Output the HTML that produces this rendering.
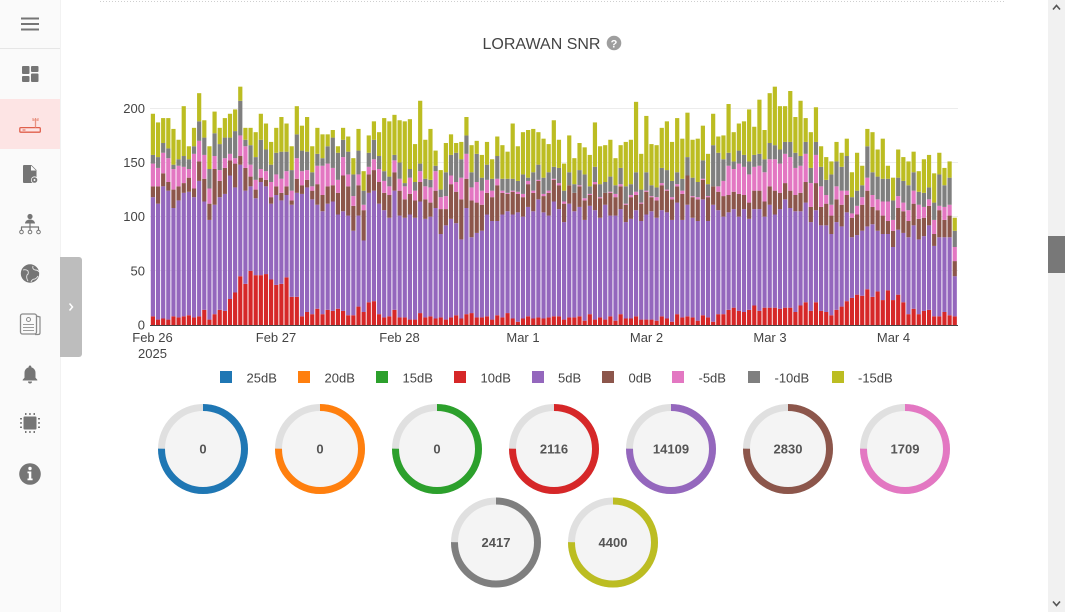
<!DOCTYPE html>
<html><head><meta charset="utf-8">
<style>
html,body{margin:0;padding:0;width:1065px;height:612px;overflow:hidden;background:#fff;font-family:"Liberation Sans",sans-serif;}
svg{position:absolute;left:0;top:0;}
</style></head><body>
<svg id="s" width="1065" height="612" viewBox="0 0 1065 612" xmlns="http://www.w3.org/2000/svg" font-family="Liberation Sans, sans-serif">
<!-- sidebar -->
<rect x="0" y="0" width="60" height="612" fill="#fafafa"/>
<rect x="60" y="0" width="1" height="612" fill="#f2f2f2"/>
<rect x="0" y="48" width="60" height="1" fill="#e6e6e6"/>
<rect x="0" y="99" width="60" height="50" fill="#fde4e4"/>
<!-- hamburger -->
<rect x="21" y="17.5" width="18" height="2" fill="#757575"/>
<rect x="21" y="23" width="18" height="2" fill="#757575"/>
<rect x="21" y="28.5" width="18" height="2" fill="#757575"/>
<!-- dashboard -->
<rect x="22" y="66" width="7.5" height="8" rx="1" fill="#757575"/>
<rect x="22" y="76" width="7.5" height="6" rx="1" fill="#757575"/>
<rect x="31" y="66" width="7.5" height="6" rx="1" fill="#757575"/>
<rect x="31" y="73.5" width="7.5" height="8.5" rx="1" fill="#757575"/>
<!-- router (active) -->
<rect x="19.8" y="127.6" width="20.5" height="4.6" rx="1" fill="none" stroke="#e0604c" stroke-width="1.3"/>
<rect x="22.5" y="129.5" width="3" height="1" fill="#e0604c"/>
<line x1="35.5" y1="118" x2="35.5" y2="127.5" stroke="#e8907f" stroke-width="1.3"/>
<line x1="33" y1="118" x2="33" y2="121" stroke="#e8907f" stroke-width="1"/>
<line x1="38" y1="118" x2="38" y2="121" stroke="#e8907f" stroke-width="1"/>
<line x1="33" y1="120" x2="38" y2="120" stroke="#e8907f" stroke-width="1"/>
<!-- file gear -->
<path d="M24 165 h7.5 l5 5 v8 h-3 v5 h-9.5 a1 1 0 0 1 -1 -1 v-16 a1 1 0 0 1 1 -1 z" fill="#757575"/>
<path d="M31 165.5 v5 h5" fill="#fafafa"/>
<circle cx="34.5" cy="180" r="3.6" fill="#fafafa"/>
<circle cx="34.5" cy="180" r="2.8" fill="#757575"/>
<circle cx="34.5" cy="180" r="1" fill="#fafafa"/>
<!-- hierarchy -->
<circle cx="30" cy="216.5" r="2.6" fill="#757575"/>
<path d="M25 223.5 a5 4 0 0 1 10 0 z" fill="#757575"/>
<line x1="30" y1="223" x2="30" y2="230" stroke="#757575" stroke-width="1.2"/>
<line x1="21" y1="227" x2="39" y2="227" stroke="#757575" stroke-width="1.2"/>
<line x1="21.5" y1="227" x2="21.5" y2="230" stroke="#757575" stroke-width="1.2"/>
<line x1="38.5" y1="227" x2="38.5" y2="230" stroke="#757575" stroke-width="1.2"/>
<circle cx="21.5" cy="232" r="1.8" fill="none" stroke="#757575" stroke-width="1"/>
<circle cx="30" cy="232" r="1.8" fill="none" stroke="#757575" stroke-width="1"/>
<circle cx="38.5" cy="232" r="1.8" fill="none" stroke="#757575" stroke-width="1"/>
<!-- globe -->
<circle cx="30" cy="273.5" r="9.2" fill="#757575"/>
<path d="M23 270 q3 -1 5 1 q1 3 -1 4 q-1 3 1 6 M33 266 q-1 3 2 4 q3 0 4 2 M31 282 q1 -3 4 -3 q2 -1 3 -3" fill="none" stroke="#e8e8e8" stroke-width="0.9"/>
<!-- document card -->
<rect x="20.5" y="314" width="16" height="20" rx="2" fill="none" stroke="#8a8a8a" stroke-width="1.3"/>
<path d="M36.5 316 l3.5 1 v16 q0 1.5 -2 1.5 h-3" fill="none" stroke="#8a8a8a" stroke-width="1.2"/>
<circle cx="28.5" cy="319.5" r="2" fill="none" stroke="#8a8a8a" stroke-width="1"/>
<rect x="23" y="324" width="11" height="1" fill="#9a9a9a"/>
<rect x="23" y="327" width="11" height="1" fill="#9a9a9a"/>
<rect x="23" y="330" width="11" height="1" fill="#9a9a9a"/>
<!-- bell -->
<path d="M30 365.5 a1.3 1.3 0 0 1 1.3 1.3 v0.5 a5.5 5.5 0 0 1 4.2 5.4 v5 l1.8 2 v0.8 h-14.6 v-0.8 l1.8 -2 v-5 a5.5 5.5 0 0 1 4.2 -5.4 v-0.5 a1.3 1.3 0 0 1 1.3 -1.3 z" fill="#757575"/>
<path d="M28 381.5 h4 a2 2 0 0 1 -4 0 z" fill="#757575"/>
<!-- chip -->
<rect x="23.5" y="416.5" width="13" height="13" rx="1" fill="#757575"/>
<g fill="#757575">
<rect x="25" y="413" width="1.5" height="2"/><rect x="29.2" y="413" width="1.5" height="2"/><rect x="33.5" y="413" width="1.5" height="2"/>
<rect x="25" y="431" width="1.5" height="2"/><rect x="29.2" y="431" width="1.5" height="2"/><rect x="33.5" y="431" width="1.5" height="2"/>
<rect x="20" y="418" width="2" height="1.5"/><rect x="20" y="422.2" width="2" height="1.5"/><rect x="20" y="426.5" width="2" height="1.5"/>
<rect x="38" y="418" width="2" height="1.5"/><rect x="38" y="422.2" width="2" height="1.5"/><rect x="38" y="426.5" width="2" height="1.5"/>
</g>
<!-- info -->
<circle cx="30" cy="474" r="10.8" fill="#757575"/>
<circle cx="30" cy="468.5" r="1.7" fill="#fff"/>
<path d="M27.5 471.5 h3.8 v7 h1.3 v1.7 h-5.1 v-1.7 h1.3 v-5.3 h-1.3 z" fill="#fff"/>
<!-- expand tab -->
<rect x="60" y="257" width="22" height="100" rx="3" fill="#bdbdbd"/>
<rect x="60" y="257" width="5" height="100" fill="#bdbdbd"/>
<polyline points="69.5,303.5 72.5,307 69.5,310.5" fill="none" stroke="#fff" stroke-width="1.5"/>

<!-- top dotted line -->
<line x1="100" y1="1.5" x2="1006" y2="1.5" stroke="#cfcfcf" stroke-width="1" stroke-dasharray="1,2"/>

<!-- title -->
<text x="541.5" y="49" font-size="16" fill="#444" text-anchor="middle">LORAWAN SNR</text>
<circle cx="614" cy="43" r="7.3" fill="#9e9e9e"/>
<text x="614" y="47.3" font-size="11" font-weight="bold" fill="#fff" text-anchor="middle">?</text>

<!-- gridlines -->
<g stroke="#ececec" stroke-width="1">
<line x1="150" y1="108.5" x2="958" y2="108.5"/>
<line x1="150" y1="162.5" x2="958" y2="162.5"/>
<line x1="150" y1="216.5" x2="958" y2="216.5"/>
<line x1="150" y1="270.5" x2="958" y2="270.5"/>
</g>
<g font-size="13" fill="#444" text-anchor="end">
<text x="145" y="113">200</text>
<text x="145" y="167">150</text>
<text x="145" y="221">100</text>
<text x="145" y="275.5">50</text>
<text x="145" y="329.5">0</text>
</g>
<g id="bars"></g>
<line x1="150" y1="325.5" x2="958" y2="325.5" stroke="#444" stroke-width="1"/>
<g font-size="13" fill="#444" text-anchor="middle">
<text x="152.5" y="342">Feb 26</text>
<text x="152.5" y="358">2025</text>
<text x="276" y="342">Feb 27</text>
<text x="399.5" y="342">Feb 28</text>
<text x="523" y="342">Mar 1</text>
<text x="646.5" y="342">Mar 2</text>
<text x="770" y="342">Mar 3</text>
<text x="893.5" y="342">Mar 4</text>
</g>

<!-- legend -->
<g font-size="13" fill="#444">
<rect x="220" y="371" width="12" height="12" fill="#1f77b4"/><text x="246.5" y="382.5">25dB</text>
<rect x="298" y="371" width="12" height="12" fill="#ff7f0e"/><text x="324.5" y="382.5">20dB</text>
<rect x="376" y="371" width="12" height="12" fill="#2ca02c"/><text x="402.5" y="382.5">15dB</text>
<rect x="454" y="371" width="12" height="12" fill="#d62728"/><text x="480.5" y="382.5">10dB</text>
<rect x="532" y="371" width="12" height="12" fill="#9467bd"/><text x="558" y="382.5">5dB</text>
<rect x="602" y="371" width="12" height="12" fill="#8c564b"/><text x="628.5" y="382.5">0dB</text>
<rect x="672" y="371" width="12" height="12" fill="#e377c2"/><text x="698.5" y="382.5">-5dB</text>
<rect x="748" y="371" width="12" height="12" fill="#7f7f7f"/><text x="774.5" y="382.5">-10dB</text>
<rect x="832" y="371" width="12" height="12" fill="#bcbd22"/><text x="858" y="382.5">-15dB</text>
</g>

<g id="donuts"></g>

<!-- scrollbar -->
<rect x="1048" y="0" width="17" height="612" fill="#f1f1f1"/>
<rect x="1048" y="236" width="17" height="37" fill="#787878"/>
<polyline points="1053,9.5 1056.5,5.5 1060,9.5" fill="none" stroke="#555" stroke-width="1.6"/>
<polyline points="1053,601.5 1056.5,605.5 1060,601.5" fill="none" stroke="#555" stroke-width="1.6"/>
</svg>
<script>
(function(){
var NS="http://www.w3.org/2000/svg";
var D=[
[8,118,128,149,157,195],[5,112,128,145,155,187],[6,128,140,159,168,191],[5,124,132,154,163,191],[8,108,125,144,148,181],
[7,115,128,147,153,171],[8,122,131,146,156,202],[9,123,136,144,153,165],[7,118,126,158,165,182],[8,133,151,170,188,214],
[14,114,135,157,173,189],[5,97,112,126,144,165],[10,111,144,156,177,197],[14,118,133,143,167,182],[13,121,145,154,173,191],
[24,138,152,158,173,195],[30,127,149,154,179,199],[45,148,156,175,207,220],[38,124,145,165,171,182],[50,128,137,148,166,182],
[46,117,125,134,155,178],[46,132,136,144,171,195],[47,128,134,142,162,186],[42,112,118,132,148,169],[37,120,128,139,159,182],
[38,115,122,135,160,192],[44,120,128,142,160,186],[26,111,115,124,143,165],[26,122,135,154,176,202],[8,121,129,142,161,184],
[12,127,134,143,160,192],[10,116,124,128,141,165],[15,111,130,147,158,182],[10,105,120,147,154,176],[14,112,128,149,165,176],
[13,114,129,145,173,180],[15,102,122,134,159,165],[13,105,138,155,171,182],[9,101,128,139,160,174],[9,87,110,119,139,154],
[17,101,129,139,161,181],[12,78,106,111,124,142],[21,122,139,146,159,175],[22,124,143,153,171,188],[10,112,132,144,156,178],
[7,106,122,133,142,191],[8,99,120,128,137,188],[14,124,141,152,157,194],[7,101,124,135,150,189],[7,99,116,128,131,188],
[5,102,121,136,144,190],[5,99,115,124,132,167],[11,114,132,142,149,207],[7,98,116,128,135,171],[8,100,113,127,134,181],
[6,108,124,142,147,161],[7,84,107,118,125,143],[5,92,107,119,141,168],[7,98,130,138,157,176],[9,94,123,132,159,168],
[6,79,116,136,153,169],[10,108,135,158,175,192],[11,81,115,127,141,166],[7,85,113,132,158,170],[7,87,111,124,136,157],
[8,102,122,134,148,169],[5,96,118,124,135,153],[9,96,129,135,156,174],[7,102,122,124,135,166],[11,105,121,122,135,160],
[6,102,123,124,135,186],[3,104,121,123,133,165],[6,100,118,121,139,178],[8,109,130,133,136,180],[6,105,122,124,141,181],
[7,116,133,134,148,178],[6,104,119,121,136,172],[7,101,122,124,141,167],[8,114,134,135,146,189],[8,107,129,131,145,171],
[5,95,112,114,124,149],[7,112,129,129,141,175],[7,105,122,122,130,154],[8,109,128,129,143,168],[4,97,115,117,139,164],
[10,110,120,121,128,157],[5,106,130,132,146,187],[7,99,117,118,130,165],[5,111,122,122,132,166],[8,101,122,123,137,171],
[4,101,118,121,129,154],[10,107,128,130,145,166],[6,95,111,112,128,169],[6,98,118,120,130,171],[8,106,120,123,141,206],
[5,96,112,113,125,158],[5,102,123,124,141,193],[5,105,118,119,129,167],[4,99,115,118,127,166],[8,106,129,131,145,182],
[6,104,124,125,143,188],[3,97,116,118,133,169],[10,113,128,130,141,191],[7,97,121,124,135,172],[8,111,138,138,155,196],
[7,99,118,119,136,171],[4,96,116,118,132,172],[9,116,134,135,152,184],[7,96,118,119,130,158],[3,111,128,128,166,195],
[10,106,123,128,159,174],[10,100,119,133,153,175],[14,104,120,147,159,204],[16,107,123,144,151,178],[13,100,121,149,161,186],
[12,107,120,146,157,188],[14,98,113,139,151,199],[18,107,124,146,157,183],[13,107,124,147,158,208],[16,100,114,141,153,180],
[16,111,128,153,168,214],[16,102,124,153,166,220],[15,107,122,149,162,202],[16,116,131,158,169,202],[16,108,124,155,169,216],
[12,105,120,145,159,192],[18,105,122,147,156,207],[21,113,132,158,169,191],[13,95,109,131,145,178],[21,106,131,157,169,201],
[13,92,109,128,146,165],[12,92,112,120,134,155],[9,84,101,111,139,151],[14,95,116,128,151,169],[17,91,111,124,146,159],
[22,104,120,124,156,172],[25,81,99,103,118,141],[28,83,102,110,124,159],[27,87,111,118,129,147],[33,91,124,136,165,181],
[26,93,109,120,141,178],[31,87,106,116,137,162],[23,84,101,114,135,172],[32,84,96,114,135,147],[23,72,87,97,115,136],
[28,88,108,119,136,162],[21,85,105,113,133,155],[10,81,96,106,129,151],[15,92,112,124,141,160],[10,79,98,111,123,142],
[13,82,99,109,122,153],[14,92,110,116,127,157],[8,73,84,97,113,140],[8,81,106,110,139,159],[12,81,97,109,129,145],
[9,81,101,111,136,151],[8,45,59,72,87,99]
];
var C=['#d62728','#9467bd','#8c564b','#e377c2','#7f7f7f','#bcbd22'];
var g=document.getElementById('bars');
for(var i=0;i<D.length;i++){
  var x=150.8+i*5.14, prev=0;
  for(var j=0;j<6;j++){
    var v=D[i][j];
    if(v>prev){
      var y1=325-v*1.0833, y0=325-prev*1.0833;
      var r=document.createElementNS(NS,'rect');
      r.setAttribute('x',x.toFixed(2));r.setAttribute('y',y1.toFixed(2));
      r.setAttribute('width','4.2');r.setAttribute('height',(y0-y1).toFixed(2));
      r.setAttribute('fill',C[j]);g.appendChild(r);
      prev=v;
    }
  }
}
var dn=[[203,449,'#1f77b4','0'],[320,449,'#ff7f0e','0'],[437,449,'#2ca02c','0'],[554,449,'#d62728','2116'],
[671,449,'#9467bd','14109'],[788,449,'#8c564b','2830'],[905,449,'#e377c2','1709'],[496,542.5,'#7f7f7f','2417'],[613,542.5,'#bcbd22','4400']];
var dg=document.getElementById('donuts');
var circ=2*Math.PI*41.5;
dn.forEach(function(d){
  var c1=document.createElementNS(NS,'circle');
  c1.setAttribute('cx',d[0]);c1.setAttribute('cy',d[1]);c1.setAttribute('r','41.5');
  c1.setAttribute('fill','#f4f4f4');c1.setAttribute('stroke','#e0e0e0');c1.setAttribute('stroke-width','7');
  dg.appendChild(c1);
  var c2=document.createElementNS(NS,'circle');
  c2.setAttribute('cx',d[0]);c2.setAttribute('cy',d[1]);c2.setAttribute('r','41.5');
  c2.setAttribute('fill','none');c2.setAttribute('stroke',d[2]);c2.setAttribute('stroke-width','7');
  c2.setAttribute('stroke-dasharray',(circ*0.75).toFixed(2)+' '+circ.toFixed(2));
  c2.setAttribute('transform','rotate(-90 '+d[0]+' '+d[1]+')');
  dg.appendChild(c2);
  var t=document.createElementNS(NS,'text');
  t.setAttribute('x',d[0]);t.setAttribute('y',d[1]+4.5);t.setAttribute('font-size','13');
  t.setAttribute('font-weight','bold');t.setAttribute('fill','#555');t.setAttribute('text-anchor','middle');
  t.textContent=d[3];dg.appendChild(t);
});
})();
</script>
</body></html>
